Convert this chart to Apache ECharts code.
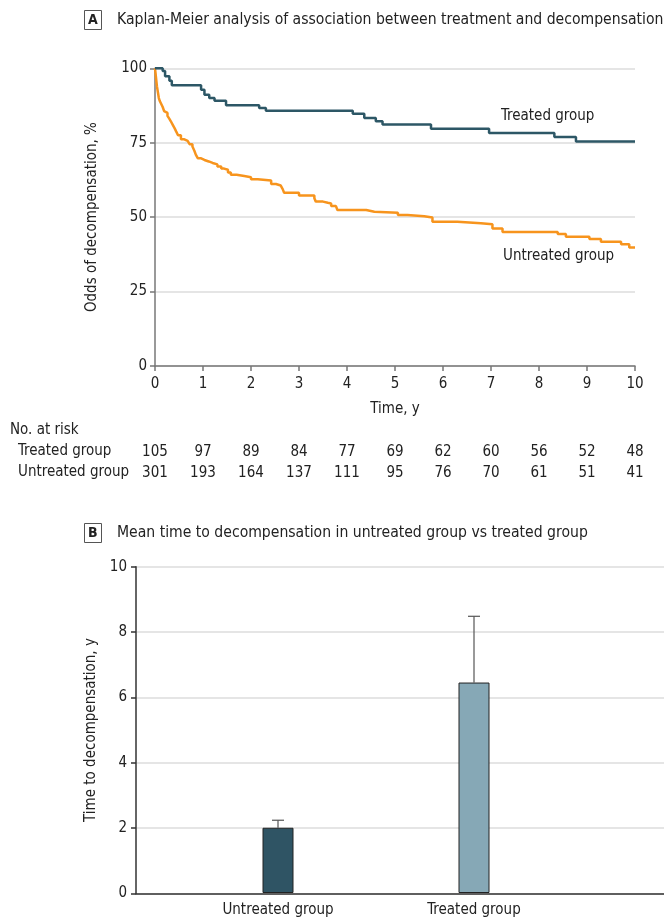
<!DOCTYPE html>
<html>
<head>
<meta charset="utf-8">
<script src="https://cdn.jsdelivr.net/npm/echarts@6/dist/echarts.min.js"></script>
<style>
html,body{margin:0;padding:0;background:#fff;}
#main{width:664px;height:918px;}
</style>
</head>
<body>
<div id="main"></div>
<script>
// ---------- data ----------
const timeTicks = [0, 1, 2, 3, 4, 5, 6, 7, 8, 9, 10];
const riskTreated = [105, 97, 89, 84, 77, 69, 62, 60, 56, 52, 48];
const riskUntreated = [301, 193, 164, 137, 111, 95, 76, 70, 61, 51, 41];

// Kaplan-Meier step points [time (y), % free of decompensation]
const treatedKM = [
  [0, 100], [0.16, 99.1], [0.21, 97.3], [0.30, 95.8], [0.35, 94.3], [0.96, 92.8],
  [1.03, 91.1], [1.13, 90.0], [1.24, 89.1], [1.48, 87.6], [2.17, 86.7], [2.31, 85.7],
  [4.12, 84.7], [4.36, 83.3], [4.60, 82.2], [4.74, 81.1], [5.75, 79.7], [6.96, 78.3],
  [8.32, 76.9], [8.77, 75.4], [10, 75.4]
];
const untreatedKM = [
  [0, 100], [0.02, 97], [0.04, 94], [0.06, 92], [0.08, 90], [0.10, 89], [0.13, 88],
  [0.16, 87], [0.19, 85.6], [0.22, 85], [0.26, 84], [0.30, 83], [0.33, 82.2], [0.37, 81],
  [0.41, 79.8], [0.44, 78.8], [0.48, 77.5], [0.54, 76.2], [0.60, 75.6], [0.68, 75.3],
  [0.72, 74.5], [0.78, 73.7], [0.82, 72.3], [0.85, 71], [0.89, 69.8], [0.95, 69.2],
  [1.03, 68.7], [1.12, 68.2], [1.20, 67.7], [1.30, 67.0], [1.38, 66.3], [1.44, 65.9],
  [1.52, 65], [1.58, 64.2], [1.70, 63.8], [1.86, 63.4], [2.0, 62.7], [2.14, 62.3],
  [2.42, 61.1], [2.52, 60.6], [2.62, 60.3], [2.66, 59.4], [2.69, 58.2], [3.0, 57.3],
  [3.32, 56.3], [3.35, 55.2], [3.5, 54.8], [3.6, 54.6], [3.67, 53.7], [3.77, 53.2],
  [3.80, 52.4], [4.40, 51.8], [4.57, 51.5], [5.06, 50.7], [5.26, 50.3], [5.61, 49.9],
  [5.78, 48.4], [6.30, 47.9], [6.79, 47.6], [7.03, 46.2], [7.24, 45.0], [8.39, 44.3],
  [8.56, 43.4], [9.05, 42.6], [9.29, 41.7], [9.71, 40.9], [9.88, 39.8], [10, 39.8]
];

const yTicksA = [0, 25, 50, 75, 100];
const yTicksB = [0, 2, 4, 6, 8, 10];
const barGroups = ['Untreated group', 'Treated group'];
const barMeans = [2.0, 6.45];
const barUpper = [2.23, 8.48];

// ---------- style ----------
const FONT = '"DejaVu Sans Condensed", "Liberation Sans Narrow", sans-serif';
const FS = 15;
const FT = 15.6;
const TXT = '#222';
const GRIDC = '#dcdcdc';
const AXC = '#777';
const C_TREATED = '#2d5766';
const C_UNTREATED = '#f7941d';
const C_BAR_U = '#2f5464';
const C_BAR_T = '#86a8b6';

const chart = echarts.init(document.getElementById('main'), null, {renderer: 'canvas'});

const hiddenY = (gi) => ({gridIndex: gi, type: 'value', min: 0, max: 1, show: false});

const option = {
  backgroundColor: '#fff',
  animation: false,
  textStyle: {fontFamily: FONT, color: TXT},
  grid: [
    {left: 155, top: 68.3, width: 480, height: 297.6}, // 0 KM plot
    {left: 155, top: 442, width: 480, height: 1},      // 1 risk treated
    {left: 155, top: 463, width: 480, height: 1},      // 2 risk untreated
    {left: 136, top: 566.7, width: 528, height: 326.7}, // 3 panel B frame
    {left: 180, top: 566.7, width: 392, height: 326.7}  // 4 panel B bars
  ],
  xAxis: [
    {
      gridIndex: 0, type: 'value', min: 0, max: 10, interval: 1,
      axisLine: {show: true, lineStyle: {color: AXC, width: 1.5}},
      axisTick: {show: true, length: 5, lineStyle: {color: AXC, width: 1.5}},
      splitLine: {show: false},
      axisLabel: {fontFamily: FONT, fontSize: FS, color: TXT, margin: 11,
        formatter: v => timeTicks.includes(v) ? String(v) : ''},
      name: 'Time, y', nameLocation: 'middle', nameGap: 36,
      nameTextStyle: {fontFamily: FONT, fontSize: FS, color: TXT}
    },
    {
      gridIndex: 1, type: 'value', min: 0, max: 10, interval: 1,
      axisLine: {show: false}, axisTick: {show: false}, splitLine: {show: false},
      axisLabel: {fontFamily: FONT, fontSize: FS, color: TXT, margin: 2,
        formatter: v => String(riskTreated[timeTicks.indexOf(v)])}
    },
    {
      gridIndex: 2, type: 'value', min: 0, max: 10, interval: 1,
      axisLine: {show: false}, axisTick: {show: false}, splitLine: {show: false},
      axisLabel: {fontFamily: FONT, fontSize: FS, color: TXT, margin: 2,
        formatter: v => String(riskUntreated[timeTicks.indexOf(v)])}
    },
    {
      gridIndex: 3, type: 'value', min: 0, max: 1,
      axisLine: {show: true, lineStyle: {color: '#333', width: 1.5}},
      axisTick: {show: false}, axisLabel: {show: false}, splitLine: {show: false}
    },
    {
      gridIndex: 4, type: 'category', data: barGroups,
      axisLine: {show: false}, axisTick: {show: false},
      axisLabel: {fontFamily: FONT, fontSize: FS, color: TXT, margin: 10}
    }
  ],
  yAxis: [
    {
      gridIndex: 0, type: 'value', min: 0, max: 100, interval: 25,
      axisLine: {show: true, lineStyle: {color: AXC, width: 1.5}},
      axisTick: {show: true, length: 5, lineStyle: {color: AXC, width: 1.5}},
      splitLine: {show: true, lineStyle: {color: GRIDC, width: 1.5}},
      axisLabel: {fontFamily: FONT, fontSize: FS, color: TXT, margin: 8,
        formatter: v => yTicksA.includes(v) ? String(v) : ''},
      name: 'Odds of decompensation, %', nameLocation: 'middle', nameGap: 55,
      nameTextStyle: {fontFamily: FONT, fontSize: FS, color: TXT}
    },
    hiddenY(1),
    hiddenY(2),
    {
      gridIndex: 3, type: 'value', min: 0, max: 10, interval: 2,
      axisLine: {show: true, lineStyle: {color: '#333', width: 1.5}},
      axisTick: {show: true, length: 5, lineStyle: {color: '#333', width: 1.5}},
      splitLine: {show: true, lineStyle: {color: GRIDC, width: 1.5}},
      axisLabel: {fontFamily: FONT, fontSize: FS, color: TXT, margin: 9,
        formatter: v => yTicksB.includes(v) ? String(v) : ''},
      name: 'Time to decompensation, y', nameLocation: 'middle', nameGap: 36,
      nameTextStyle: {fontFamily: FONT, fontSize: FS, color: TXT}
    },
    {gridIndex: 4, type: 'value', min: 0, max: 10, show: false}
  ],
  series: [
    {
      name: 'Untreated group', type: 'line', xAxisIndex: 0, yAxisIndex: 0,
      data: untreatedKM, step: 'end', showSymbol: false, clip: true,
      lineStyle: {color: C_UNTREATED, width: 2.5}
    },
    {
      name: 'Treated group', type: 'line', xAxisIndex: 0, yAxisIndex: 0,
      data: treatedKM, step: 'end', showSymbol: false, clip: true,
      lineStyle: {color: C_TREATED, width: 2.5}
    },
    {
      name: 'Mean', type: 'bar', xAxisIndex: 4, yAxisIndex: 4,
      barWidth: 31,
      data: barMeans.map((v, i) => ({
        value: v,
        itemStyle: {color: i === 0 ? C_BAR_U : C_BAR_T, borderColor: '#222', borderWidth: 1}
      }))
    },
    {
      name: 'Error', type: 'custom', xAxisIndex: 4, yAxisIndex: 4, z: 1,
      data: barMeans.map((v, i) => [i, v, barUpper[i]]),
      renderItem: function (params, api) {
        const idx = api.value(0);
        const base = api.coord([idx, api.value(1)]);
        const top = api.coord([idx, api.value(2)]);
        const hw = 6;
        return {
          type: 'group',
          children: [
            {type: 'line', shape: {x1: base[0], y1: base[1], x2: top[0], y2: top[1]},
             style: {stroke: '#555', lineWidth: 1.2}},
            {type: 'line', shape: {x1: top[0] - hw, y1: top[1], x2: top[0] + hw, y2: top[1]},
             style: {stroke: '#555', lineWidth: 1.2}}
          ]
        };
      }
    }
  ],
  graphic: [
    {type: 'rect', left: 84, top: 10, shape: {width: 17, height: 19},
     style: {fill: '#fff', stroke: '#555', lineWidth: 1}},
    {type: 'text', left: 88, top: 13,
     style: {text: 'A', font: 'bold 14px ' + FONT, fill: TXT}},
    {type: 'text', left: 117, top: 12,
     style: {text: 'Kaplan-Meier analysis of association between treatment and decompensation',
             font: FT + 'px ' + FONT, fill: TXT}},
    {type: 'text', left: 501, top: 109,
     style: {text: 'Treated group', font: FS + 'px ' + FONT, fill: TXT}},
    {type: 'text', left: 503, top: 249,
     style: {text: 'Untreated group', font: FS + 'px ' + FONT, fill: TXT}},
    {type: 'text', left: 10, top: 423,
     style: {text: 'No. at risk', font: FS + 'px ' + FONT, fill: TXT}},
    {type: 'text', left: 18, top: 444,
     style: {text: 'Treated group', font: FS + 'px ' + FONT, fill: TXT}},
    {type: 'text', left: 18, top: 465,
     style: {text: 'Untreated group', font: FS + 'px ' + FONT, fill: TXT}},
    {type: 'rect', left: 84, top: 523, shape: {width: 17, height: 19},
     style: {fill: '#fff', stroke: '#555', lineWidth: 1}},
    {type: 'text', left: 88, top: 526,
     style: {text: 'B', font: 'bold 14px ' + FONT, fill: TXT}},
    {type: 'text', left: 117, top: 525,
     style: {text: 'Mean time to decompensation in untreated group vs treated group',
             font: FT + 'px ' + FONT, fill: TXT}}
  ]
};

chart.setOption(option);
</script>
</body>
</html>
